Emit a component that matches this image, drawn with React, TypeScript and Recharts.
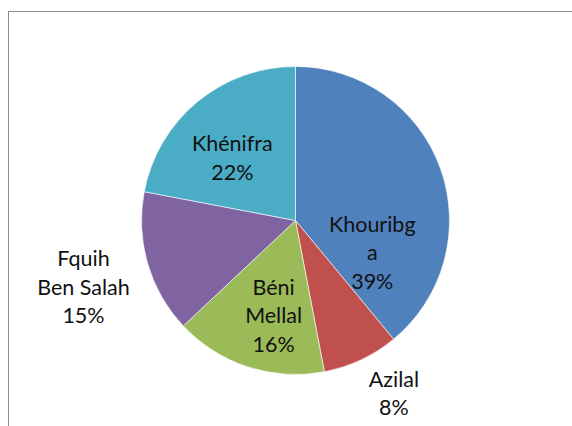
import React from 'react';
import { PieChart, Pie, Cell } from 'recharts';

const regions = ['Khouribga', 'Azilal', 'Béni Mellal', 'Fquih Ben Salah', 'Khénifra'];
const shares = [39, 8, 16, 15, 22];
// how Excel wrapped each label
const labelLines = [
  ['Khouribg', 'a', '39%'],
  ['Azilal', '8%'],
  ['Béni', 'Mellal', '16%'],
  ['Fquih', 'Ben Salah', '15%'],
  ['Khénifra', '22%'],
];
// label distance from centre (fraction of radius) and angle nudge in degrees
const labelDist = [0.54, 1.29, 0.633, 1.442, 0.58];
const labelShift = [-42.4, 4.5, 5.0, 1.1, 5.4];

const COLORS = ['#4F81BD', '#C0504D', '#9BBB59', '#8064A2', '#4BACC6'];

const data = regions.map((name, i) => ({ name, value: shares[i] }));

const RADIAN = Math.PI / 180;
const LINE_H = 28.5;

const renderLabel = (props: any) => {
  const { cx, cy, midAngle, outerRadius, index } = props;
  const a = (midAngle + labelShift[index]) * RADIAN;
  const r = outerRadius * labelDist[index];
  const x = cx + r * Math.cos(a);
  const y = cy - r * Math.sin(a);
  const lines = labelLines[index];
  const top = y - ((lines.length - 1) * LINE_H) / 2;
  return (
    <text
      x={x}
      y={top}
      textAnchor="middle"
      dominantBaseline="central"
      fill="#111"
      fontSize={21.5}
      fontFamily="Lato, 'Open Sans', sans-serif"
    >
      {lines.map((l, k) => (
        <tspan key={k} x={x} y={top + k * LINE_H}>
          {l}
        </tspan>
      ))}
    </text>
  );
};

export default function App() {
  return (
    <div style={{ position: 'fixed', left: 0, top: 0, width: 572, height: 426, overflow: 'hidden', background: '#fff' }}>
      <div
        style={{
          position: 'absolute',
          left: 8,
          top: 11,
          width: 600,
          height: 440,
          border: '1.5px solid #8c8c8c',
          boxSizing: 'border-box',
        }}
      >
        <PieChart width={580} height={430} margin={{ top: 0, right: 0, bottom: 0, left: 0 }}>
          <Pie
            data={data}
            dataKey="value"
            nameKey="name"
            cx={286.5}
            cy={208.5}
            outerRadius={154}
            startAngle={90}
            endAngle={-270}
            stroke="#fff"
            strokeWidth={0.6}
            labelLine={false}
            label={renderLabel}
            isAnimationActive={false}
          >
            {data.map((entry, index) => (
              <Cell key={`cell-${index}`} fill={COLORS[index % COLORS.length]} />
            ))}
          </Pie>
        </PieChart>
      </div>
    </div>
  );
}
